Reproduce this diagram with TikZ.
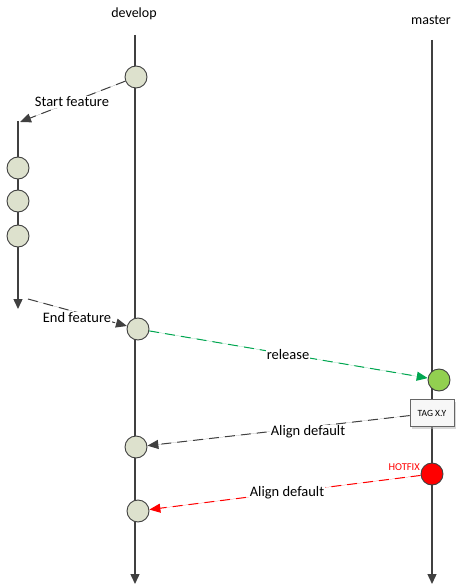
\documentclass[tikz,border=0pt]{standalone}
\usepackage{fontspec}
\setmainfont{Carlito}
\usetikzlibrary{arrows.meta,shadows}
\definecolor{lineg}{HTML}{404040}
\definecolor{cfill}{HTML}{DDE1CD}
\definecolor{gline}{HTML}{00A650}
\definecolor{gfill}{HTML}{92D050}
\tikzset{
  commit/.style={circle,draw=lineg,fill=cfill,line width=0.9pt,minimum size=22pt,inner sep=0pt},
  trunk/.style={draw=lineg,line width=1.4pt,-{Triangle[length=10pt,width=9pt]}},
  link/.style={line width=1pt,dash pattern=on 10pt off 6pt,-{Triangle[length=11pt,width=9pt]}},
  lbl/.style={fill=white,inner sep=1pt,font=\fontsize{14.5}{16}\selectfont,text=black},
}
\begin{document}
\begin{tikzpicture}[x=1pt,y=-1pt]
\useasboundingbox (0,0) rectangle (462,585);
% titles
\node[font=\fontsize{14}{16}\selectfont] (tdev) at (134,14) {develop};
\node[font=\fontsize{14}{16}\selectfont] (tmas) at (431,20) {master};
% trunk lines
\coordinate (ds) at (135,35);
\coordinate (de) at (135,584);
\coordinate (ms) at (432,40);
\coordinate (me) at (432,584);
\draw[trunk] (ds) -- (de);
\draw[trunk] (ms) -- (me);
% feature branch
\coordinate (fs) at (18,121);
\coordinate (fe) at (18,309);
\draw[trunk] (fs) -- (fe);
\node[commit] (f1) at (18,168) {};
\node[commit] (f2) at (18,201) {};
\node[commit] (f3) at (18,236) {};
% develop commits
\node[commit] (d1) at (136,77) {};
\node[commit] (d2) at (138,329) {};
\node[commit] (d3) at (136,447) {};
\node[commit] (d4) at (138,511) {};
% master commits
\node[commit,fill=gfill] (m1) at (439,380) {};
\node[draw=gray!80!black,fill=gray!6,line width=0.6pt,minimum width=44pt,minimum height=27pt,inner sep=0pt,
  drop shadow={shadow xshift=2pt,shadow yshift=-2pt,fill=gray!60},font=\fontsize{9.5}{10}\selectfont] (tag) at (432,413) {TAG X.Y};
\node[commit,fill=red] (m2) at (432,474) {};
\node[text=red,font=\fontsize{10.5}{11}\selectfont,anchor=east,inner sep=1pt] (hf) at (421,467) {HOTFIX};
% connectors
\coordinate (sfe) at (20,122);
\draw[link,draw=lineg,fill=lineg] (d1) -- (sfe);
\coordinate (efs) at (28,299);
\draw[link,draw=lineg,fill=lineg] (efs) -- (d2);
\draw[link,draw=gline,fill=gline] (d2) -- (m1);
\draw[link,draw=lineg,fill=lineg] (tag) -- (d3);
\draw[link,draw=red,fill=red] (m2) -- (d4);
% labels
\node[lbl] (l1) at (72,102) {Start feature};
\node[lbl] (l2) at (77,318) {End feature};
\node[lbl] (l3) at (288,355) {release};
\node[lbl] (l4) at (308,432) {Align default};
\node[lbl] (l5) at (287,493) {Align default};
\end{tikzpicture}
\end{document}
